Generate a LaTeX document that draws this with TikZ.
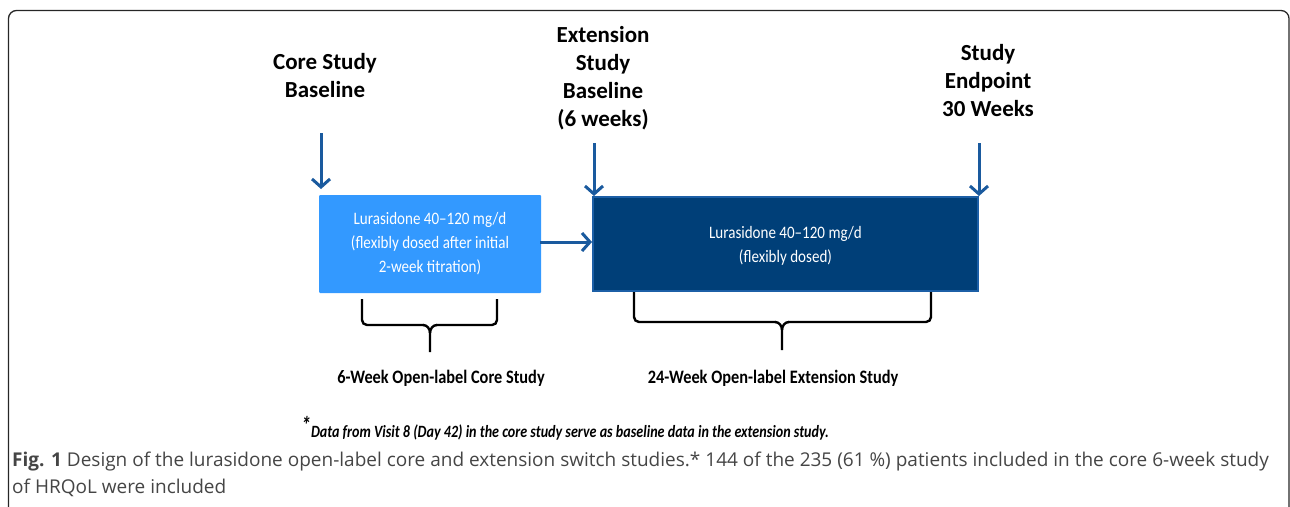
\documentclass[tikz,border=0pt]{standalone}
\usepackage{fontspec}
\setmainfont{Carlito}
\newfontfamily\narrowfont[FakeStretch=0.86]{Carlito}
\newfontfamily\footfont[FakeStretch=0.82]{Carlito}
\newfontfamily\capfont{Open Sans}
\usetikzlibrary{arrows.meta}
\definecolor{arrowblue}{HTML}{1A5A9E}
\definecolor{lightbox}{HTML}{3399FF}
\definecolor{darkbox}{HTML}{003F78}
\definecolor{darkborder}{HTML}{1C5FA6}
\definecolor{capgrey}{HTML}{454545}
\tikzset{
  x=1pt,y=-1pt,
  headtxt/.style={align=center,font=\fontsize{23}{28}\selectfont\bfseries,inner sep=0pt},
  barrow/.style={draw=arrowblue,line width=3pt,-{Straight Barb[length=8pt,width=18pt,line width=3pt]}},
  brace/.style={draw=black,line width=2.4pt,rounded corners=5pt},
  boxtxt/.style={align=center,text=white,font=\narrowfont\fontsize{17.5}{24}\selectfont},
  labtxt/.style={font=\narrowfont\bfseries\fontsize{19}{20}\selectfont,inner sep=0pt}
}
\begin{document}
\begin{tikzpicture}
\useasboundingbox (0,0) rectangle (1290,506);
% frame
\draw[line width=1.3pt,color=black!85,rounded corners=8pt] (8.5,10.5) rectangle (1289,520);
% header texts
\node[headtxt] (h1) at (325,76) {Core Study\\Baseline};
\node[headtxt] (h2) at (603,78) {Extension\\Study\\Baseline\\(6 weeks)};
\node[headtxt] (h3) at (988,81) {Study\\Endpoint\\30 Weeks};
% boxes
\node[draw=none,fill=lightbox,minimum width=222pt,minimum height=98pt,inner sep=0pt,rounded corners=1pt] (b1) at (430,244) {};
\node[boxtxt] (t1) at (b1.center) {Lurasidone 40–120 mg/d\\(flexibly dosed after initial\\2-week titration)};
\node[draw=darkborder,line width=2pt,fill=darkbox,minimum width=385pt,minimum height=94pt,inner sep=0pt] (b2) at (785.5,244) {};
\node[boxtxt] (t2) at ([yshift=-2pt]b2.center) {Lurasidone 40–120 mg/d\\(flexibly dosed)};
% arrows
\coordinate (a1s) at (321,133);
\coordinate (a2s) at (594,143);
\coordinate (a3s) at (979,143);
\draw[barrow] (a1s) -- (321,189);
\draw[barrow] (a2s) -- (594,196);
\draw[barrow] (a3s) -- (979,196);
\draw[barrow] (b1.east) ++(-1,-2) coordinate (hs) -- (b2.west |- hs);
% braces
\draw[brace] (362,299) -- (362,325) -- (424,325);
\draw[brace] (497,299) -- (497,325) -- (436,325);
\draw[line width=2.4pt] (423,325) to[out=0,in=90] (430,333) -- (430,352);
\draw[line width=2.4pt] (437,325) to[out=180,in=90] (430,333);
\draw[brace] (634,292) -- (634,322) -- (776,322);
\draw[brace] (931,292) -- (931,322) -- (788,322);
\draw[line width=2.4pt] (775,322) to[out=0,in=90] (782,330) -- (782,350);
\draw[line width=2.4pt] (789,322) to[out=180,in=90] (782,330);
% labels
\node[labtxt] (l1) at (441,378) {6-Week Open-label Core Study};
\node[labtxt] (l2) at (773,378) {24-Week Open-label Extension Study};
% footnote
\node[anchor=west,inner sep=0pt,font=\footfont\bfseries\itshape\fontsize{17.2}{18}\selectfont] (fn) at (301,428) {\raisebox{4pt}{\fontsize{24}{24}\selectfont *}Data from Visit 8 (Day 42) in the core study serve as baseline data in the extension study.};
% caption
\node[anchor=west,inner sep=0pt,text=capgrey,font=\capfont\fontsize{19}{20}\selectfont] (c1) at (12,462) {{\bfseries Fig. 1} Design of the lurasidone open-label core and extension switch studies.* 144 of the 235 (61 \%) patients included in the core 6-week study};
\node[anchor=west,inner sep=0pt,text=capgrey,font=\capfont\fontsize{19}{20}\selectfont] (c2) at (12,488) {of HRQoL were included};
\end{tikzpicture}
\end{document}
